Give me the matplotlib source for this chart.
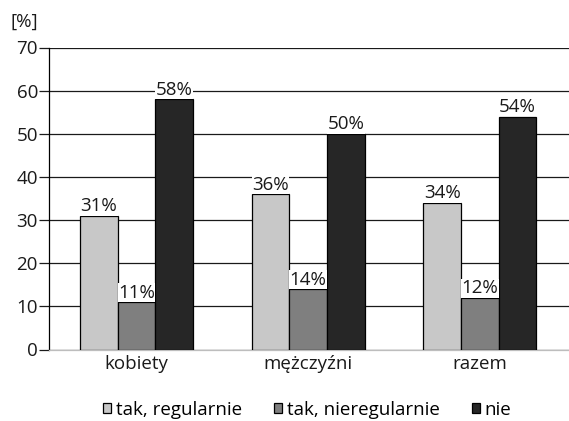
import matplotlib
matplotlib.use("Agg")
import matplotlib.pyplot as plt
import numpy as np

plt.rcParams['font.family'] = ['Open Sans', 'DejaVu Sans']

# dane: odsetek odpowiedzi w grupach
grupy = ["kobiety", "mężczyźni", "razem"]
serie = ["tak, regularnie", "tak, nieregularnie", "nie"]
tak_regularnie = [31, 36, 34]
tak_nieregularnie = [11, 14, 12]
nie = [58, 50, 54]
kolory = ["#c8c8c8", "#7f7f7f", "#262626"]

wartosci = [tak_regularnie, tak_nieregularnie, nie]
fs = 13.5

fig = plt.figure(figsize=(5.69, 4.21), dpi=100)
ax = fig.add_axes([49 / 569, 1 - 349.5 / 421, 1 - 49 / 569, (349.5 - 47.5) / 421])

x = np.arange(len(grupy))
szer = 0.219

for i, (nazwa, vals, kol) in enumerate(zip(serie, wartosci, kolory)):
    pos = x + (i - 1) * szer
    ax.bar(pos, vals, width=szer, color=kol, edgecolor="black",
           linewidth=0.9, label=nazwa, zorder=3)
    for xp, v in zip(pos, vals):
        ax.text(xp, v + 0.1, f"{v}%", ha="center", va="bottom", fontsize=fs,
                color="#1a1a1a", zorder=4,
                bbox=dict(facecolor="white", edgecolor="none", pad=0.3))

ax.set_xlim(-0.51, 2.52)
ax.set_ylim(0, 70)
ax.set_yticks(range(0, 71, 10))
ax.set_xticks(x)
ax.set_xticklabels(grupy)
ax.tick_params(axis="y", length=7, width=0.9, labelsize=fs, pad=1, colors="#1a1a1a")
ax.tick_params(axis="x", length=0, labelsize=fs, pad=4, colors="#1a1a1a")

ax.yaxis.grid(True, color="#1a1a1a", linewidth=0.9, zorder=0)
ax.set_axisbelow(True)
for s in ["top", "right"]:
    ax.spines[s].set_visible(False)
ax.spines["left"].set_linewidth(0.9)
ax.spines["bottom"].set_color("#bdbdbd")
ax.spines["bottom"].set_linewidth(0.9)

fig.text(10 / 569, 1 - 22 / 421, "[%]", fontsize=fs, va="center", ha="left",
         color="#1a1a1a")

fig.legend(loc="center", bbox_to_anchor=(307 / 569, 1 - 410 / 421), ncol=3,
           frameon=False, fontsize=fs, handlelength=0.45, handleheight=0.45,
           handletextpad=0.25, columnspacing=1.7)

fig.savefig("out.png", dpi=100)
